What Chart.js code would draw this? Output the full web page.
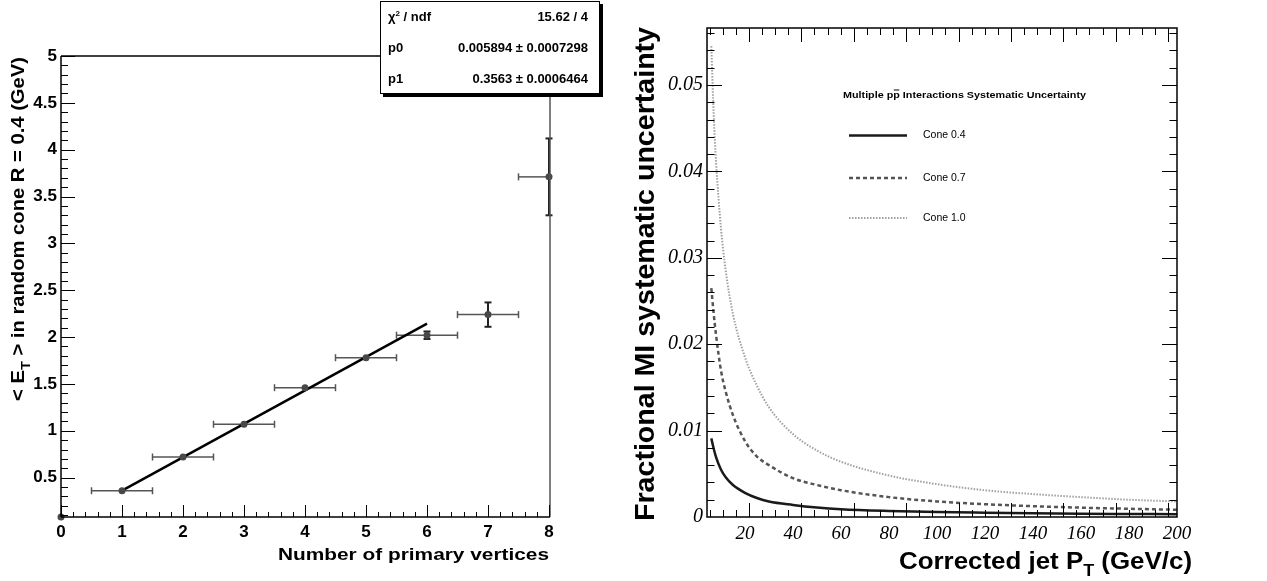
<!DOCTYPE html>
<html><head><meta charset="utf-8">
<script src="https://cdn.jsdelivr.net/npm/chart.js@4.4.1/dist/chart.umd.min.js"></script>
<style>
html,body{margin:0;padding:0;background:#fff;}
#wrap{position:relative;width:1267px;height:581px;overflow:hidden;background:#fff;}
canvas{position:absolute;top:0;}
#c1{left:0;} #c2{left:620px;}
#stats{position:absolute;left:380px;top:1px;width:218px;height:91px;border:1px solid #000;background:#fff;box-shadow:3px 3px 0 #000;font:bold 13px "Liberation Sans",Arial,sans-serif;color:#000;}
#stats .row{position:absolute;left:7px;right:11px;height:16px;line-height:16px;display:flex;justify-content:space-between;white-space:nowrap;}
#stats sup{font-size:8px;line-height:0;vertical-align:5px;}
</style></head>
<body>
<div id="wrap">
<canvas id="c1" width="620" height="581"></canvas>
<canvas id="c2" width="647" height="581"></canvas>
<div id="stats">
  <div class="row" style="top:7px"><span>χ<sup>2</sup> / ndf</span><span>15.62 / 4</span></div>
  <div class="row" style="top:38px"><span>p0</span><span>0.005894 ± 0.0007298</span></div>
  <div class="row" style="top:69px"><span>p1</span><span>0.3563 ± 0.0006464</span></div>
</div>
</div>
<script>
// ---------- Left panel data ----------
const nVtx      = [0, 1, 2, 3, 4, 5, 6, 7, 8];
const meanEt    = [0.08, 0.36, 0.72, 1.07, 1.46, 1.78, 2.02, 2.24, 3.71];
const meanEtErr = [0, 0.012, 0.012, 0.012, 0.014, 0.016, 0.04, 0.13, 0.41];
const nVtxErr   = [0, 0.5, 0.5, 0.5, 0.5, 0.5, 0.5, 0.5, 0.5];
const fitX      = [1, 6];
const fitY      = [0.362, 2.144];
const leftXTicks      = [0, 1, 2, 3, 4, 5, 6, 7, 8];
const leftXTickLabels = ['0', '1', '2', '3', '4', '5', '6', '7', '8'];
const leftYTicks      = [0.5, 1, 1.5, 2, 2.5, 3, 3.5, 4, 4.5, 5];
const leftYTickLabels = ['0.5', '1', '1.5', '2', '2.5', '3', '3.5', '4', '4.5', '5'];

// ---------- Right panel data ----------
const jetPt  = [6, 7, 8, 10, 12, 15, 20, 25, 30, 40, 50, 60, 80, 100, 120, 140, 160, 180, 200];
const cone04 = [0.0091, 0.0079, 0.0069, 0.0055, 0.0046, 0.0037, 0.0028, 0.0022, 0.0018, 0.0014, 0.0011, 0.0009, 0.0007, 0.00058, 0.0005, 0.00043, 0.00038, 0.00035, 0.00032];
const cone07 = [0.0265, 0.0235, 0.021, 0.0170, 0.0145, 0.0118, 0.0088, 0.0070, 0.0060, 0.0045, 0.0037, 0.0031, 0.0023, 0.0018, 0.00148, 0.00125, 0.00108, 0.00095, 0.00084];
const cone10 = [0.0545, 0.0465, 0.041, 0.0335, 0.0285, 0.0235, 0.0185, 0.0152, 0.0127, 0.0096, 0.0077, 0.0064, 0.0048, 0.0038, 0.0031, 0.00265, 0.0023, 0.0020, 0.0018];
const seriesNames = ['Cone 0.4', 'Cone 0.7', 'Cone 1.0'];
const rightXTicks      = [20, 40, 60, 80, 100, 120, 140, 160, 180, 200];
const rightXTickLabels = ['20', '40', '60', '80', '100', '120', '140', '160', '180', '200'];
const rightYTicks      = [0, 0.01, 0.02, 0.03, 0.04, 0.05];
const rightYTickLabels = ['0', '0.01', '0.02', '0.03', '0.04', '0.05'];
const legendTitle = ['Multiple p', 'p', ' Interactions Systematic Uncertainty'];

const SANS = '"Liberation Sans", Arial, sans-serif';
const SERIF = '"Liberation Serif", "Times New Roman", serif';

function drawRuns(ctx, runs, o) {
  ctx.save();
  ctx.translate(o.x, o.y);
  if (o.rot) ctx.rotate(o.rot);
  let w = 0;
  for (const r of runs) { ctx.font = r.font; r.w = ctx.measureText(r.text).width; w += r.w; }
  const k = o.width ? o.width / w : 1;
  ctx.scale(k, 1);
  let cx = o.align === 'right' ? -w : (o.align === 'center' ? -w / 2 : 0);
  ctx.fillStyle = '#000'; ctx.strokeStyle = '#000';
  ctx.textAlign = 'left'; ctx.textBaseline = 'alphabetic';
  for (const r of runs) {
    ctx.font = r.font;
    ctx.fillText(r.text, cx, r.dy || 0);
    if (r.over) {
      ctx.lineWidth = 1;
      ctx.beginPath(); ctx.moveTo(cx + 0.5, r.over); ctx.lineTo(cx + r.w - 0.5, r.over); ctx.stroke();
    }
    cx += r.w;
  }
  ctx.restore();
}
function line(ctx, x1, y1, x2, y2) { ctx.beginPath(); ctx.moveTo(x1, y1); ctx.lineTo(x2, y2); ctx.stroke(); }

// ---------- Left panel decorations ----------
const leftDecor = {
  id: 'leftDecor',
  beforeDatasetsDraw(chart) {
    const ctx = chart.ctx, xs = chart.scales.x, ys = chart.scales.y, a = chart.chartArea;
    ctx.save();
    for (let i = 0; i < nVtx.length; i++) {
      const px = xs.getPixelForValue(nVtx[i]), py = ys.getPixelForValue(meanEt[i]);
      if (nVtxErr[i] > 0) {
        const xl = xs.getPixelForValue(nVtx[i] - nVtxErr[i]), xr = xs.getPixelForValue(nVtx[i] + nVtxErr[i]);
        ctx.strokeStyle = '#555'; ctx.lineWidth = 1.5;
        line(ctx, Math.max(xl, a.left), py, Math.min(xr, a.right), py);
        if (xl >= a.left) line(ctx, xl, py - 3.5, xl, py + 3.5);
        if (xr <= a.right) line(ctx, xr, py - 3.5, xr, py + 3.5);
      }
      const yt = ys.getPixelForValue(meanEt[i] + meanEtErr[i]), yb = ys.getPixelForValue(meanEt[i] - meanEtErr[i]);
      if (yb - yt > 6) {
        ctx.strokeStyle = '#222'; ctx.lineWidth = 2;
        line(ctx, px, yt, px, yb);
        line(ctx, px - 3.5, yt, px + 3.5, yt);
        line(ctx, px - 3.5, yb, px + 3.5, yb);
      }
    }
    ctx.restore();
  },
  afterDraw(chart) {
    const ctx = chart.ctx, xs = chart.scales.x, ys = chart.scales.y, a = chart.chartArea;
    ctx.save();
    ctx.lineCap = 'butt';
    ctx.strokeStyle = '#555'; ctx.lineWidth = 1.5;
    line(ctx, a.right + 1, a.top, a.right + 1, a.bottom);
    ctx.strokeStyle = '#000'; ctx.lineWidth = 1.5;
    line(ctx, a.left, a.top, a.right + 1, a.top);
    line(ctx, a.left, a.top, a.left, a.bottom);
    line(ctx, a.left, a.bottom, a.right + 1, a.bottom);
    ctx.lineWidth = 1;
    for (let v = 0.1; v <= 5.0001; v += 0.1) {
      const vv = Math.round(v * 10) / 10;
      if (vv < ys.min) continue;
      const major = Math.abs(vv * 2 - Math.round(vv * 2)) < 1e-6;
      const py = Math.round(ys.getPixelForValue(vv)) + 0.5;
      line(ctx, a.left, py, a.left + (major ? 14 : 7), py);
    }
    for (let v = 0; v <= 8.0001; v += 0.2) {
      const vv = Math.round(v * 10) / 10;
      const major = Math.abs(vv - Math.round(vv)) < 1e-6;
      const px = Math.round(xs.getPixelForValue(vv)) + 0.5;
      line(ctx, px, a.bottom, px, a.bottom - (major ? 12 : 5));
    }
    ctx.restore();
    drawRuns(ctx, [{ text: 'Number of primary vertices', font: 'bold 17px ' + SANS }],
      { x: 549, y: 560, align: 'right', width: 271 });
    drawRuns(ctx, [
      { text: '< E', font: 'bold 18px ' + SANS },
      { text: 'T', font: 'bold 13px ' + SANS, dy: 6 },
      { text: ' > in random cone R = 0.4 (GeV)', font: 'bold 18px ' + SANS }
    ], { x: 24, y: 57, rot: -Math.PI / 2, align: 'right', width: 344 });
  }
};

new Chart(document.getElementById('c1'), {
  type: 'scatter',
  data: {
    datasets: [
      { label: 'data', data: nVtx.map((x, i) => ({ x, y: meanEt[i] })), showLine: false, clip: false,
        pointRadius: 3.5, pointBackgroundColor: '#484848', pointBorderColor: '#484848', pointBorderWidth: 0 },
      { label: 'fit', data: fitX.map((x, i) => ({ x, y: fitY[i] })), showLine: true, borderColor: '#000',
        borderWidth: 2.5, pointRadius: 0 }
    ]
  },
  options: {
    responsive: false, animation: false, events: [],
    layout: { padding: { left: 0, top: 56, right: 71, bottom: 0 } },
    plugins: { legend: { display: false }, tooltip: { enabled: false } },
    scales: {
      x: {
        type: 'linear', min: 0, max: 8,
        grid: { display: false, drawTicks: false }, border: { display: false },
        afterBuildTicks: s => { s.ticks = leftXTicks.map(v => ({ value: v })); },
        afterFit: s => { s.height = 64; },
        ticks: { callback: (v, i) => leftXTickLabels[i], autoSkip: false, maxRotation: 0, padding: 5,
          color: '#000', font: { family: SANS, weight: 'bold', size: 17 } }
      },
      y: {
        type: 'linear', min: 0.08, max: 5,
        grid: { display: false, drawTicks: false }, border: { display: false },
        afterBuildTicks: s => { s.ticks = leftYTicks.map(v => ({ value: v })); },
        afterFit: s => { s.width = 61; },
        ticks: { callback: (v, i) => leftYTickLabels[i], autoSkip: false, padding: 4,
          color: '#000', font: { family: SANS, weight: 'bold', size: 17 } }
      }
    }
  },
  plugins: [leftDecor]
});

// ---------- Right panel ----------
const styles = [
  { color: '#1a1a1a', width: 2.5, dash: [] },
  { color: '#555555', width: 2.5, dash: [4, 3] },
  { color: '#a0a0a0', width: 2, dash: [1.5, 1.5] }
];
const rightDecor = {
  id: 'rightDecor',
  afterDraw(chart) {
    const ctx = chart.ctx, ys = chart.scales.y, xf = chart.scales.xf, a = chart.chartArea;
    ctx.save();
    ctx.strokeStyle = '#000'; ctx.lineWidth = 1.5;
    ctx.strokeRect(a.left, a.top, a.right - a.left, a.bottom - a.top);
    ctx.lineWidth = 1;
    for (let v = 0; v <= 0.0566; v += 0.002) {
      const vv = Math.round(v * 1000) / 1000;
      if (vv <= 0 || vv > ys.max) continue;
      const major = Math.abs(vv * 100 - Math.round(vv * 100)) < 1e-6;
      const py = Math.round(ys.getPixelForValue(vv)) + 0.5;
      const L = major ? 15 : 7.5;
      line(ctx, a.left, py, a.left + L, py);
      line(ctx, a.right, py, a.right - L, py);
    }
    for (let v = 5; v <= xf.max; v += 5) {
      const major = v % 20 === 0;
      const px = Math.round(xf.getPixelForValue(v)) + 0.5;
      const L = major ? 14 : 7;
      line(ctx, px, a.bottom, px, a.bottom - L);
      line(ctx, px, a.top, px, a.top + L);
    }
    const ly = [135.5, 178, 218];
    for (let i = 0; i < 3; i++) {
      const s = styles[i];
      ctx.strokeStyle = s.color; ctx.lineWidth = s.width; ctx.setLineDash(s.dash);
      line(ctx, 229, ly[i], 287, ly[i]);
      ctx.setLineDash([]);
      ctx.fillStyle = '#000'; ctx.font = '10.5px ' + SANS; ctx.textBaseline = 'middle'; ctx.textAlign = 'left';
      ctx.fillText(seriesNames[i], 303, ly[i]);
    }
    ctx.restore();
    drawRuns(ctx, [
      { text: legendTitle[0], font: 'bold 9.3px ' + SANS },
      { text: legendTitle[1], font: 'bold 9.3px ' + SANS, over: -7.5 },
      { text: legendTitle[2], font: 'bold 9.3px ' + SANS }
    ], { x: 223, y: 97.5, align: 'left', width: 243 });
    drawRuns(ctx, [{ text: 'Fractional MI systematic uncertainty', font: 'bold 28px ' + SANS }],
      { x: 34, y: 27, rot: -Math.PI / 2, align: 'right', width: 494 });
    drawRuns(ctx, [
      { text: 'Corrected jet P', font: 'bold 23px ' + SANS },
      { text: 'T', font: 'bold 16px ' + SANS, dy: 7 },
      { text: ' (GeV/c)', font: 'bold 23px ' + SANS }
    ], { x: 572, y: 569, align: 'right', width: 293 });
  }
};

new Chart(document.getElementById('c2'), {
  type: 'line',
  data: {
    datasets: [cone04, cone07, cone10].map((arr, i) => ({
      label: seriesNames[i], xAxisID: 'x', yAxisID: 'y',
      data: jetPt.map((x, j) => ({ x, y: arr[j] })),
      borderColor: styles[i].color, borderWidth: styles[i].width, borderDash: styles[i].dash,
      pointRadius: 0, fill: false, cubicInterpolationMode: 'monotone'
    }))
  },
  options: {
    responsive: false, animation: false, events: [],
    layout: { padding: { left: 0, top: 28, right: 90, bottom: 0 } },
    plugins: { legend: { display: false }, tooltip: { enabled: false } },
    scales: {
      x: {
        type: 'linear', position: 'bottom', min: 4.2, max: 200,
        grid: { display: false, drawTicks: false }, border: { display: false },
        afterBuildTicks: s => { s.ticks = rightXTicks.map(v => ({ value: v })); },
        afterFit: s => { s.height = 64; },
        ticks: { callback: (v, i) => rightXTickLabels[i], autoSkip: false, maxRotation: 0, padding: 6,
          color: '#000', font: { family: SERIF, style: 'italic', size: 19 } }
      },
      xf: { type: 'linear', position: 'bottom', min: 4, max: 183.4, display: false },
      y: {
        type: 'linear', min: 0, max: 0.0566,
        grid: { display: false, drawTicks: false }, border: { display: false },
        afterBuildTicks: s => { s.ticks = rightYTicks.map(v => ({ value: v })); },
        afterFit: s => { s.width = 87; },
        ticks: { callback: (v, i) => rightYTickLabels[i], autoSkip: false, padding: 4,
          color: '#000', font: { family: SERIF, style: 'italic', size: 20 } }
      }
    }
  },
  plugins: [rightDecor]
});
</script>
</body></html>
